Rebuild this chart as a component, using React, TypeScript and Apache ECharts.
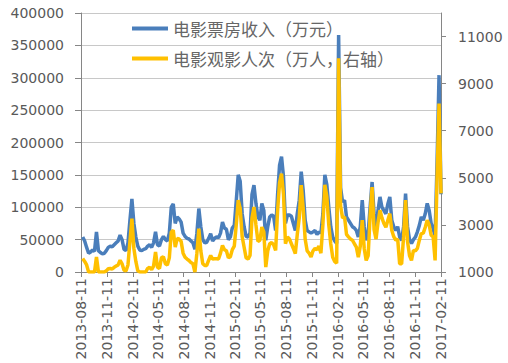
import React, { useEffect, useRef } from "react";
import * as echarts from "echarts";

// Weekly data, first week dated 2013-08-17, every 7 days
const firstWeek = "2013-08-17";
const axisStart = "2013-08-11";
const axisEnd = "2017-02-11";

const tickLabels = [
  "2013-08-11", "2013-11-11", "2014-02-11", "2014-05-11", "2014-08-11",
  "2014-11-11", "2015-02-11", "2015-05-11", "2015-08-11", "2015-11-11",
  "2016-02-11", "2016-05-11", "2016-08-11", "2016-11-11", "2017-02-11",
];

// 电影票房收入（万元）
const boxOffice = [
  54000, 48000, 38000, 29000, 31000, 34000, 32000, 62000, 33000, 30000,
  28000, 29000, 33000, 38000, 40000, 39000, 42000, 45000, 48000, 57000,
  50000, 35000, 33000, 45000, 80000, 113000, 75000, 54000, 40000, 34000,
  33000, 35000, 36000, 40000, 42000, 38000, 45000, 62000, 42000, 40000,
  50000, 55000, 50000, 48000, 60000, 100000, 105000, 75000, 85000, 82000,
  77000, 60000, 55000, 52000, 51000, 48000, 45000, 35000, 60000, 98000,
  70000, 50000, 45000, 46000, 52000, 59000, 48000, 52000, 54000, 53000,
  60000, 77000, 68000, 66000, 50000, 54000, 68000, 72000, 110000, 150000,
  140000, 90000, 70000, 55000, 54000, 60000, 120000, 134000, 106000, 85000,
  80000, 106000, 95000, 49000, 70000, 85000, 88000, 86000, 64000, 120000,
  165000, 178000, 147000, 75000, 88000, 88000, 86000, 75000, 64000, 90000,
  111000, 155000, 126000, 80000, 64000, 62000, 60000, 62000, 64000, 58000,
  62000, 60000, 90000, 150000, 135000, 100000, 70000, 54000, 48000, 44000,
  366000, 130000, 108000, 111000, 85000, 80000, 75000, 70000, 68000, 64000,
  54000, 70000, 111000, 70000, 49000, 60000, 100000, 139000, 90000, 70000,
  95000, 116000, 100000, 95000, 90000, 105000, 116000, 80000, 70000, 64000,
  70000, 54000, 49000, 70000, 121000, 70000, 50000, 44000, 50000, 54000,
  62000, 72000, 85000, 80000, 90000, 106000, 95000, 75000, 67000, 55000,
  170000, 304000, 120000,
];

// 电影观影人次（万人，右轴）
const viewers = [
  1570, 1450, 1300, 1000, 1000, 1000, 1000, 1640, 1000, 1000,
  1000, 1000, 1050, 1140, 1150, 1130, 1200, 1250, 1300, 1500,
  1350, 1070, 1050, 1300, 2300, 3270, 2000, 1450, 1050, 1000,
  1000, 1000, 1000, 1150, 1200, 1100, 1250, 1850, 1200, 1150,
  1600, 1650, 1350, 1300, 1600, 2700, 2770, 2060, 2420, 2400,
  2300, 1800, 1630, 1550, 1490, 1400, 1350, 1000, 1800, 2840,
  1900, 1350, 1280, 1280, 1500, 1700, 1550, 1560, 1560, 1550,
  1800, 2130, 1950, 1900, 1600, 1650, 1950, 2100, 3000, 4050,
  3700, 2500, 2050, 1600, 1550, 1700, 3300, 3760, 3000, 2300,
  2350, 2910, 2700, 1210, 1900, 2200, 2250, 2150, 1920, 3600,
  4800, 5180, 4300, 2200, 2490, 2400, 2200, 2000, 1780, 2600,
  3300, 4690, 3700, 2400, 1900, 1800, 1640, 1900, 2000, 1950,
  2100, 1800, 3000, 4700, 4200, 3000, 2200, 1630, 1450, 1370,
  10080, 3800, 3300, 3340, 2600, 2490, 2400, 2350, 2200, 2060,
  1630, 2100, 3200, 2000, 1490, 1700, 3400, 4610, 2800, 2400,
  3100, 3620, 3300, 3060, 2900, 3200, 3480, 2770, 2500, 2350,
  2400, 1350, 1350, 2500, 4050, 2300, 1700, 1490, 1920, 1900,
  2000, 2350, 2630, 2650, 2900, 3200, 3000, 2560, 2490, 1490,
  5000, 8150, 4340,
];

const leftTicks = [0, 50000, 100000, 150000, 200000, 250000, 300000, 350000, 400000];
const rightTicks = [1000, 3000, 5000, 7000, 9000, 11000];

const seriesNames = ["电影票房收入（万元）", "电影观影人次（万人，右轴）"];

const DAY = 86400000;
const toUTC = (s: string) => {
  const [y, m, d] = s.split("-").map(Number);
  return Date.UTC(y, m - 1, d);
};
const dayOf = (s: string) => Math.round((toUTC(s) - toUTC(axisStart)) / DAY);
const pad = (n: number) => (n < 10 ? "0" + n : "" + n);
const labelOf = (day: number) => {
  const d = new Date(toUTC(axisStart) + day * DAY);
  return d.getUTCFullYear() + "-" + pad(d.getUTCMonth() + 1) + "-" + pad(d.getUTCDate());
};

export default function App() {
  const ref = useRef<HTMLDivElement>(null);
  useEffect(() => {
    if (!ref.current) return;
    const chart = echarts.init(ref.current, null, { renderer: "svg" });
    const first = dayOf(firstWeek);
    const xOf = (i: number) => first + 7 * i;
    const tickDays = tickLabels.map(dayOf);
    const axisFont = { fontFamily: "DejaVu Sans", fontSize: 14, color: "#595959" };
    const plain = (v: number) => String(Math.round(v));
    chart.setOption({
      animation: false,
      backgroundColor: "#ffffff",
      grid: { left: 81, right: 67, top: 13, bottom: 91, containLabel: false },
      legend: {
        orient: "vertical",
        left: 127,
        top: 15,
        icon: "rect",
        itemWidth: 36,
        itemHeight: 4,
        itemGap: 13,
        textStyle: { fontFamily: "Noto Sans CJK SC", fontSize: 17, color: "#666666" },
        data: seriesNames,
      },
      xAxis: {
        type: "value",
        min: 0,
        max: dayOf(axisEnd),
        splitLine: { show: false },
        axisLine: { show: true, onZero: false, lineStyle: { color: "#868686", width: 1 } },
        axisTick: { show: true, length: 5, customValues: tickDays, lineStyle: { color: "#868686" } },
        axisLabel: {
          ...axisFont,
          rotate: 90,
          margin: 6,
          customValues: tickDays,
          formatter: (v: number) => labelOf(v),
        },
      },
      yAxis: [
        {
          type: "value",
          min: 0,
          max: 400000,
          interval: 50000,
          axisLine: { show: true, lineStyle: { color: "#868686" } },
          axisTick: { show: true, length: 6, customValues: leftTicks, lineStyle: { color: "#868686" } },
          splitLine: { show: true, lineStyle: { color: "#c8c8c8", width: 1 } },
          axisLabel: { ...axisFont, margin: 17, customValues: leftTicks, formatter: plain },
        },
        {
          type: "value",
          min: 1000,
          max: 12000,
          interval: 2000,
          position: "right",
          axisLine: { show: true, lineStyle: { color: "#868686" } },
          axisTick: { show: true, length: 5, customValues: rightTicks, lineStyle: { color: "#868686" } },
          splitLine: { show: false },
          axisLabel: { ...axisFont, margin: 17, customValues: rightTicks, formatter: plain },
        },
      ],
      series: [
        {
          name: seriesNames[0],
          type: "line",
          yAxisIndex: 0,
          showSymbol: false,
          symbol: "none",
          lineStyle: { color: "#4a7ebb", width: 3.5 },
          itemStyle: { color: "#4a7ebb" },
          data: boxOffice.map((v, i) => [xOf(i), v]),
        },
        {
          name: seriesNames[1],
          type: "line",
          yAxisIndex: 1,
          showSymbol: false,
          symbol: "none",
          lineStyle: { color: "#ffc000", width: 3.5 },
          itemStyle: { color: "#ffc000" },
          data: viewers.map((v, i) => [xOf(i), v]),
        },
      ],
    });
    return () => chart.dispose();
  }, []);
  return (
    <div
      ref={ref}
      style={{ position: "fixed", left: 0, top: 0, width: 508, height: 363, background: "#fff" }}
    />
  );
}
